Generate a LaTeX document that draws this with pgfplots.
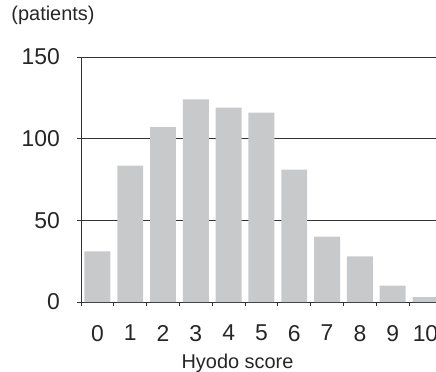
\documentclass[border=0pt]{standalone}
\usepackage{fontspec}
\setmainfont{Liberation Sans}
\usepackage{pgfplots}
\pgfplotsset{compat=1.18}
\definecolor{bargray}{HTML}{C8C9CB}
\definecolor{linegray}{HTML}{333333}
\begin{document}
\begin{tikzpicture}
\begin{axis}[
  at={(0,0)}, anchor=south west,
  scale only axis, width=355bp, height=245bp,
  xmin=-0.5, xmax=10.32, ymin=0, ymax=150,
  axis x line*=bottom, axis y line*=left,
  axis line style={-, draw=linegray, line width=0.9bp},
  ybar, bar width=0.79,
  ytick={0,50,100,150},
  ymajorgrids, grid style={draw=linegray, line width=0.9bp},
  xtick={-0.5,0.5,...,9.5},
  xticklabels={0,1,2,3,4,5,6,7,8,9,10},
  tick align=outside, major tick length=4bp,
  tick style={draw=linegray, line width=0.9bp},
  /pgf/number format/assume math mode=true,
  ticklabel style={font=\fontsize{23}{23}\selectfont, inner sep=0pt, text=black!85},
  yticklabel style={xshift=-17bp},
  xticklabel style={anchor=north, xshift=16.4bp, yshift=-19bp},
]
\addplot[fill=bargray, draw=none] coordinates {
  (0,31) (1,83.5) (2,107) (3,124) (4,119) (5,116) (6,81) (7,40) (8,28) (9,10) (10,3)
};
\end{axis}
\node[font=\fontsize{20}{20}\selectfont, text=black!85] at (-28bp,287bp) {(patients)};
\node[font=\fontsize{20}{20}\selectfont, text=black!85] at (156.5bp,-61bp) {Hyodo score};
\pgfresetboundingbox
\useasboundingbox (-81bp,-70bp) rectangle (355bp,302bp);
\end{tikzpicture}
\end{document}
